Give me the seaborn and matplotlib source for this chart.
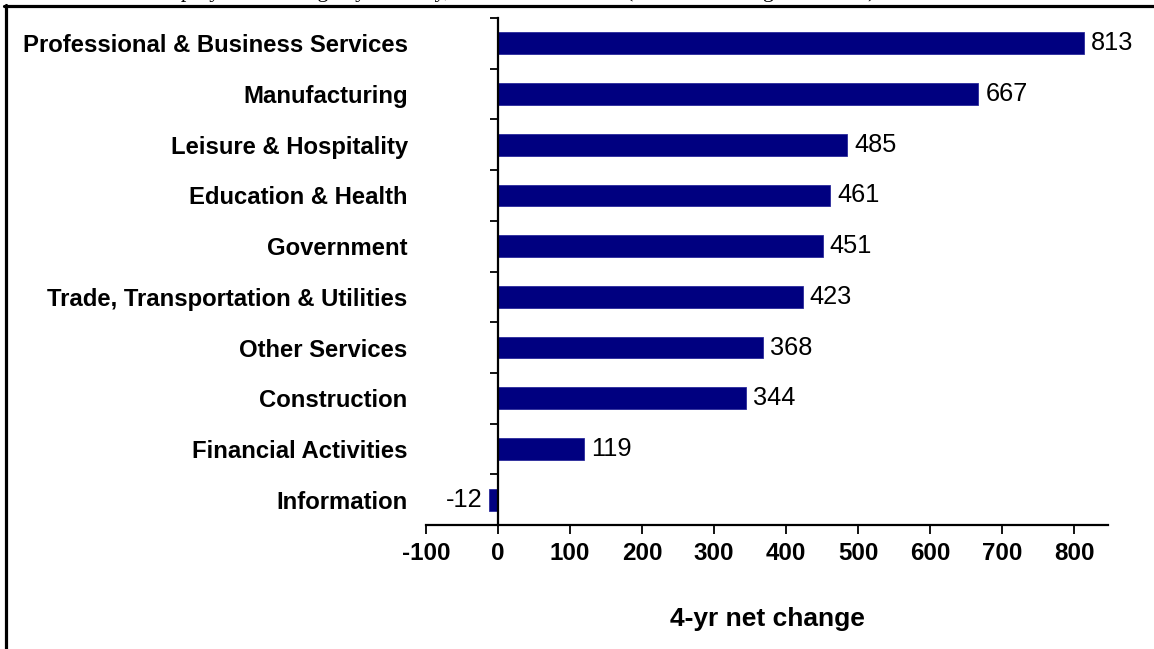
import matplotlib
matplotlib.use("Agg")
import matplotlib.pyplot as plt
from matplotlib.lines import Line2D
from matplotlib.ticker import FixedLocator
import seaborn as sns
import pandas as pd
import numpy as np

# Net employment change over four years, thousands of jobs
industries = [
    "Professional & Business Services",
    "Manufacturing",
    "Leisure & Hospitality",
    "Education & Health",
    "Government",
    "Trade, Transportation & Utilities",
    "Other Services",
    "Construction",
    "Financial Activities",
    "Information",
]
net_change = [813, 667, 485, 461, 451, 423, 368, 344, 119, -12]
x_ticks = [-100, 0, 100, 200, 300, 400, 500, 600, 700, 800]

df = pd.DataFrame({"industry": industries, "change": net_change})

sns.set_theme(style="white", rc={"text.color": "black", "axes.labelcolor": "black",
                                 "xtick.color": "black", "ytick.color": "black"})
plt.rcParams["font.family"] = ["Liberation Sans", "DejaVu Sans"]

fig = plt.figure(figsize=(11.54, 6.49), dpi=100)
ax = fig.add_axes([426 / 1154, 1 - 525 / 649, (1108 - 426) / 1154, (525 - 18) / 649])

sns.barplot(data=df, x="change", y="industry", orient="h", color="#000080",
            saturation=1, width=0.43, ax=ax, edgecolor="#2a2a9a", linewidth=0.6)

ax.set_xlim(-100, 847)
ax.set_ylim(len(industries) - 0.5, -0.5)

# Spines: y axis sits at zero, x axis along the bottom
for side in ("top", "right"):
    ax.spines[side].set_visible(False)
ax.spines["left"].set_position(("data", 0))
for side in ("left", "bottom"):
    ax.spines[side].set_color("black")
    ax.spines[side].set_linewidth(1.6)

ax.xaxis.set_major_locator(FixedLocator(x_ticks))
ax.set_xticklabels([str(v) for v in x_ticks])
ax.tick_params(axis="x", direction="out", length=6.5, width=1.3, color="black",
               pad=6, labelsize=17.4, bottom=True, labelcolor="black")
for lbl in ax.get_xticklabels():
    lbl.set_fontweight("bold")

# Category labels far to the left, tick marks on the category boundaries
ax.yaxis.set_minor_locator(FixedLocator(np.arange(-0.5, len(industries), 1.0)))
ax.tick_params(axis="y", which="major", length=0, pad=65, labelsize=17.2,
               labelcolor="black")
ax.tick_params(axis="y", which="minor", direction="out", length=6, width=1.3,
               color="black", left=True)
for lbl in ax.get_yticklabels():
    lbl.set_fontweight("bold")
ax.set_ylabel("")

ax.set_xlabel("4-yr net change", fontsize=19, fontweight="bold", labelpad=30,
              color="black")

for cont in ax.containers:
    ax.bar_label(cont, labels=[str(v) for v in net_change], padding=5,
                 fontsize=18.3, color="black")

# Clipped heading along the top edge and the frame lines
fig.text(150 / 1154, 1 + 3 / 649,
         "Employment Change by Industry, Thousands of Jobs (Q2 2003 through Q2 2007)",
         family=["Liberation Serif", "DejaVu Serif"], fontsize=16, va="baseline",
         ha="left", color="black")
fig.add_artist(Line2D([5.5 / 1154, 5.5 / 1154], [0, 1 - 5 / 649], transform=fig.transFigure,
                      color="black", linewidth=2.3))
fig.add_artist(Line2D([4 / 1154, 1], [1 - 6 / 649, 1 - 6 / 649], transform=fig.transFigure,
                      color="black", linewidth=2.3))

fig.savefig("out.png", dpi=100)
